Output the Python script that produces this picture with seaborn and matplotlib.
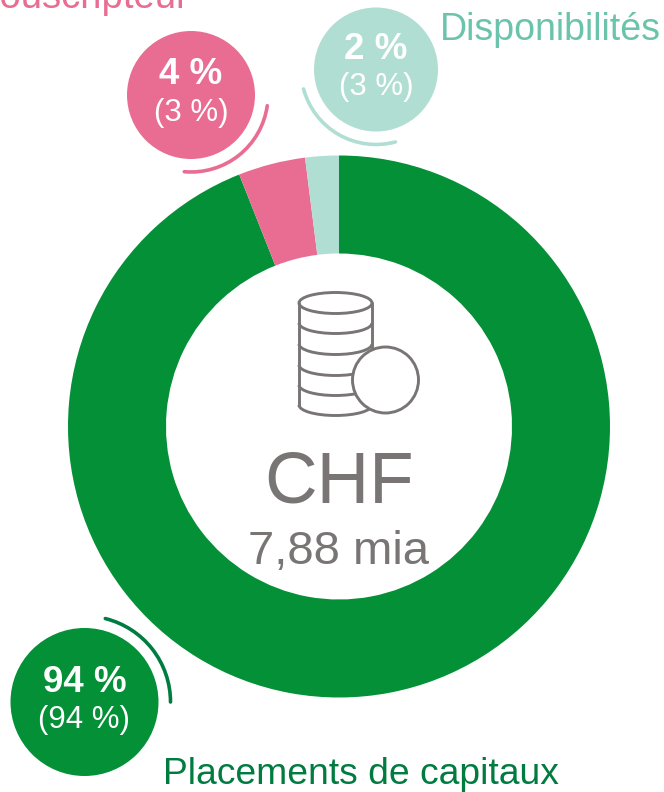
import numpy as np
import pandas as pd
import seaborn as sns
import matplotlib.pyplot as plt
from matplotlib.patches import Arc, Circle, Ellipse

# --- data ---
categories = ['Placements de capitaux', 'Souscripteur', 'Disponibilités']
shares = [94, 4, 2]
previous = [94, 3, 3]
total_unit = 'CHF'
total_value = '7,88 mia'

GREEN = '#039037'
PINK = '#E96D93'
MINT = '#B1DED3'
GREY = '#797575'
colors = [GREEN, PINK, MINT]
label_colors = ['#017C41', '#E96D93', '#6CC3AB']

df = pd.DataFrame({'category': categories, 'share': shares, 'previous': previous})

sns.set_theme(style='white')
plt.rcParams['font.family'] = ['Liberation Sans', 'DejaVu Sans']

W, H = 664, 792
fig = plt.figure(figsize=(W / 100, H / 100), dpi=100)
ax = fig.add_axes([0, 0, 1, 1])


def py(y):
    # picture pixels count from the top
    return H - y


# --- donut ---
ax.pie(df['share'], colors=colors, startangle=90, counterclock=False,
       center=(339, py(426.5)), radius=271,
       wedgeprops={'width': 98, 'linewidth': 0}, frame=True)
ax.set_xlim(0, W)
ax.set_ylim(0, H)
ax.set_aspect('equal')
ax.axis('off')

# --- bubbles: centre x, centre y, radius, arc radius, arc start, arc end ---
bubbles = [
    (84.5, 702, 74, 86, 0, 76),
    (191, 95, 64, 77, 265, 352),
    (376, 69.5, 62, 75, 195, 285),
]
arc_colors = ['#017C41', PINK, MINT]
for (cx, cy, r, ar, a0, a1), c, ac, s, p in zip(bubbles, colors, arc_colors, shares, previous):
    ax.add_patch(Circle((cx, py(cy)), r, color=c, lw=0))
    ax.add_patch(Arc((cx, py(cy)), 2 * ar, 2 * ar, theta1=a0, theta2=a1,
                     color=ac, lw=2.6, capstyle='round'))
    ax.text(cx, py(cy - 20), f'{s} %', color='white', fontsize=26.5, fontweight='bold',
            ha='center', va='center')
    ax.text(cx, py(cy + 18), f'({p} %)', color='white', fontsize=22.5,
            ha='center', va='center')

# --- outer labels ---
ax.text(360.5, py(775), categories[0], color=label_colors[0], fontsize=26.8, ha='center', va='center')
ax.text(189, py(-2), categories[1], color=label_colors[1], fontsize=27.5, ha='right', va='center', clip_on=True)
ax.text(550, py(30), categories[2], color=label_colors[2], fontsize=27, ha='center', va='center')

# --- centre text ---
ax.text(339, py(484), total_unit, color=GREY, fontsize=52.5, ha='center', va='center')
ax.text(339, py(552), total_value, color=GREY, fontsize=34, ha='center', va='center')

# --- coin stack icon ---
lw_icon = 2.1
ax.plot([299, 299], [py(303), py(405)], color=GREY, lw=lw_icon)
ax.plot([372, 372], [py(303), py(352)], color=GREY, lw=lw_icon)
ax.add_patch(Ellipse((335.5, py(303)), 73, 21, fill=False, ec=GREY, lw=lw_icon))
for band_y in [323, 344, 365, 385, 405]:
    ax.add_patch(Arc((335.5, py(band_y)), 73, 21, theta1=180, theta2=360, color=GREY, lw=lw_icon))
ax.add_patch(Circle((385.5, py(380)), 33, fc='white', ec=GREY, lw=lw_icon, zorder=5))

fig.savefig('out.png', dpi=100, facecolor='white')
